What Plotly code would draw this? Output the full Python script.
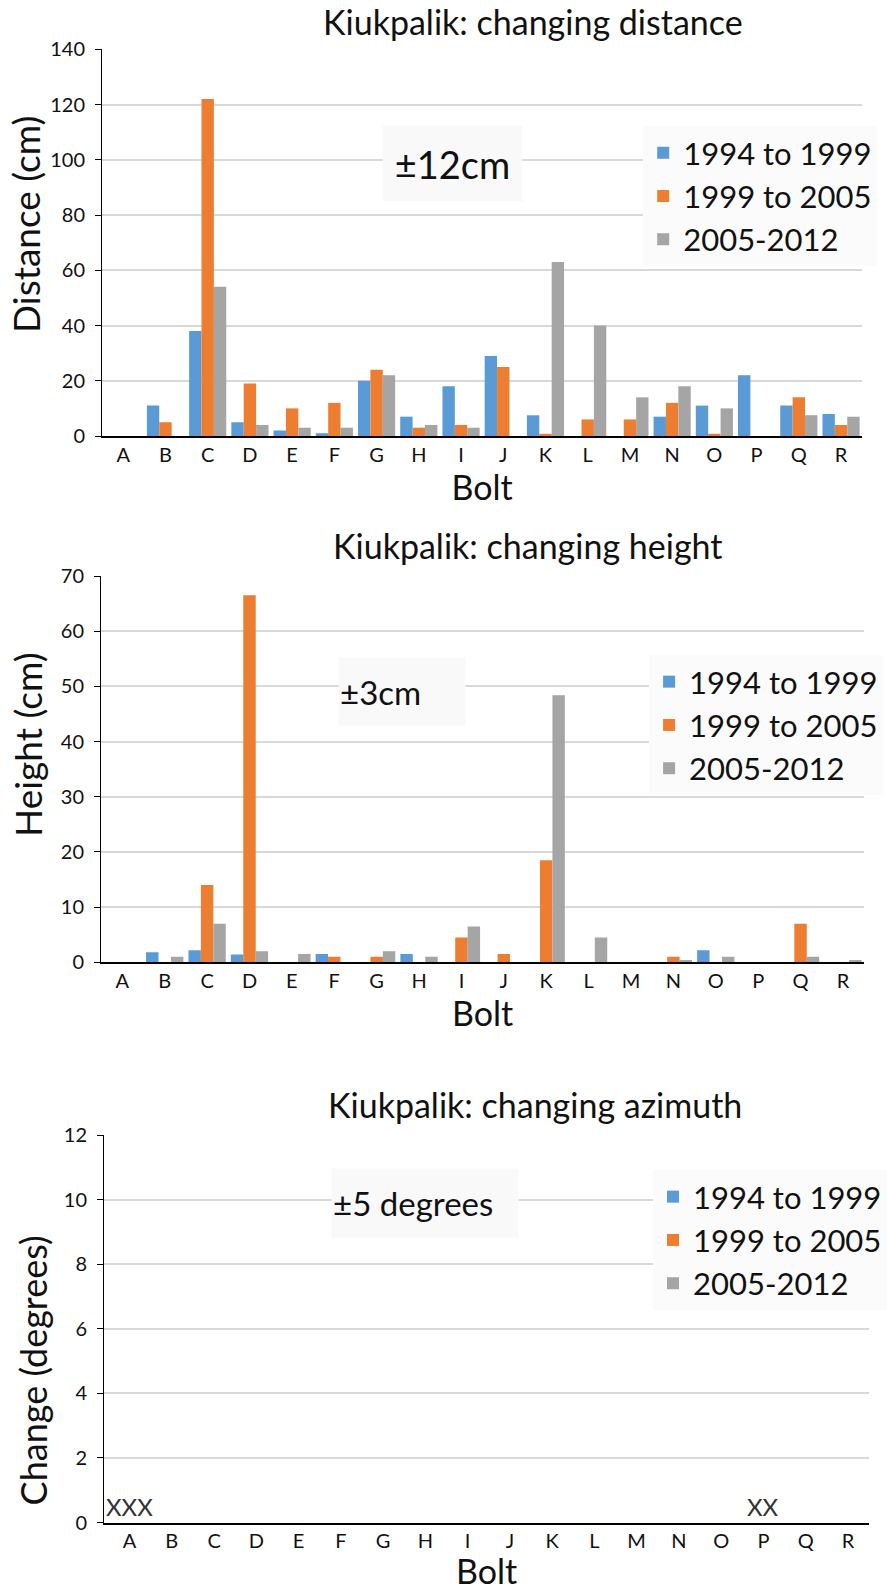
import plotly.graph_objects as go

# ---------------- data ----------------
bolts = ["A", "B", "C", "D", "E", "F", "G", "H", "I", "J", "K", "L", "M", "N", "O", "P", "Q", "R"]
series_names = ["1994 to 1999", "1999 to 2005", "2005-2012"]
series_colors = ["#5B9BD5", "#ED7D31", "#A5A5A5"]

dist_1994_1999 = [0, 11, 38, 5, 2, 1, 20, 7, 18, 29, 7.5, 0, 0, 7, 11, 22, 11, 8]
dist_1999_2005 = [0, 5, 122, 19, 10, 12, 24, 3, 4, 25, 0.8, 6, 6, 12, 0.8, 0, 14, 4]
dist_2005_2012 = [0, 0, 54, 4, 3, 3, 22, 4, 3, 0, 63, 40, 14, 18, 10, 0, 7.5, 7]

height_1994_1999 = [0, 1.8, 2.2, 1.4, 0, 1.5, 0, 1.5, 0, 0, 0, 0, 0, 0, 2.2, 0, 0, 0]
height_1999_2005 = [0, 0, 14, 66.5, 0, 1, 1, 0, 4.5, 1.5, 18.5, 0, 0, 1, 0, 0, 7, 0]
height_2005_2012 = [0, 1, 7, 2, 1.5, 0, 2, 1, 6.5, 0, 48.4, 4.5, 0, 0.4, 1, 0, 1, 0.4]

# azimuth: no measurable change recorded (shown as empty chart)
azim_1994_1999 = [None] * 18
azim_1999_2005 = [None] * 18
azim_2005_2012 = [None] * 18

azim_flags = {"A": "XXX", "P": "XX"}

chart_titles = ["Kiukpalik: changing distance", "Kiukpalik: changing height", "Kiukpalik: changing azimuth"]
y_titles = ["Distance (cm)", "Height (cm)", "Change (degrees)"]
x_title = "Bolt"
tolerances = ["±12cm", "±3cm", "±5 degrees"]

# ---------------- layout geometry ----------------
W, H = 887, 1591
FONT = "Lato"


def xd(l, r):
    return [l / W, r / W]


def yd(top, bottom):
    return [1 - bottom / H, 1 - top / H]


fig = go.Figure()

panels = [
    dict(data=[dist_1994_1999, dist_1999_2005, dist_2005_2012], xa="x", ya="y", leg="legend"),
    dict(data=[height_1994_1999, height_1999_2005, height_2005_2012], xa="x2", ya="y2", leg="legend2"),
    dict(data=[azim_1994_1999, azim_1999_2005, azim_2005_2012], xa="x3", ya="y3", leg="legend3"),
]

for p in panels:
    for name, color, vals in zip(series_names, series_colors, p["data"]):
        fig.add_trace(go.Bar(
            x=bolts, y=vals, name=name, marker=dict(color=color, line=dict(width=0)),
            xaxis=p["xa"], yaxis=p["ya"], legend=p["leg"],
        ))

grid_c = "#D9D9D9"
tickfont = dict(family=FONT, size=20, color="#111")
titlefont = dict(family=FONT, size=34, color="#111")


def xaxis(domain, anchor, lab_off, title_off):
    return dict(domain=domain, anchor=anchor, type="category", categoryorder="array",
                categoryarray=bolts, showline=True, linecolor="#000", linewidth=1.5,
                ticks="", tickfont=tickfont, automargin=False, showgrid=False,
                title=dict(text=x_title, font=titlefont, standoff=title_off),
                ticklabelstandoff=lab_off)


def yaxis(domain, anchor, rng, dtick):
    return dict(domain=domain, anchor=anchor, range=rng, dtick=dtick, tick0=0,
                showline=True, linecolor="#000", linewidth=1.2, ticks="outside",
                ticklen=6, tickcolor="#000", tickfont=tickfont, showgrid=True,
                gridcolor=grid_c, gridwidth=1.5, zeroline=False, automargin=False,
                ticklabelstandoff=6)


fig.update_layout(
    width=W, height=H, margin=dict(l=0, r=0, t=0, b=0),
    paper_bgcolor="white", plot_bgcolor="white",
    font=dict(family=FONT, color="#111"),
    barmode="group", bargap=0.12, bargroupgap=0,
    xaxis=xaxis(xd(104, 878), "y", 0, 6),
    yaxis=yaxis(yd(49.3, 436), "x", [0, 140], 20),
    xaxis2=xaxis(xd(103, 880), "y2", 0, 8),
    yaxis2=yaxis(yd(576, 962.3), "x2", [0, 70], 10),
    xaxis3=xaxis(xd(106, 885), "y3", 0, 14),
    yaxis3=yaxis(yd(1135, 1522.5), "x3", [0, 12], 2),
)

legfont = dict(family=FONT, size=31, color="#111")
leg_common = dict(font=legfont, bgcolor="#FBFBFB", borderwidth=0, xanchor="left",
                  yanchor="top", itemwidth=30, tracegroupgap=0)
fig.update_layout(
    legend=dict(x=655 / W, y=1 - 126 / H, **leg_common),
    legend2=dict(x=661 / W, y=1 - 655 / H, **leg_common),
    legend3=dict(x=665 / W, y=1 - 1170 / H, **leg_common),
)

# chart titles
for text, cx, cy in zip(chart_titles, [543, 538, 545], [22, 545, 1104]):
    fig.add_annotation(text=text, x=cx / W, y=1 - cy / H, xref="paper", yref="paper",
                       xanchor="center", yanchor="middle", showarrow=False,
                       font=dict(family=FONT, size=34, color="#111"))

# y-axis titles (placed where the reference puts them)
for text, cx, cy, fs in zip(y_titles, [26.5, 27.5, 34], [225, 745, 1370], [37, 37, 36]):
    fig.add_annotation(text=text, x=cx / W, y=1 - cy / H, xref="paper", yref="paper",
                       xanchor="center", yanchor="middle", showarrow=False, textangle=-90,
                       font=dict(family=FONT, size=fs, color="#111"))

# tolerance boxes
boxes = [(389, 125, 528, 200), (344, 657, 470, 724), (337, 1168, 523, 1236)]
tol_sizes = [38, 33, 33]
tol_align = ["center", "left", "left"]
for text, (l, t, r, b), fs, al in zip(tolerances, boxes, tol_sizes, tol_align):
    fig.add_annotation(text=text, x=l / W, y=1 - t / H, xref="paper", yref="paper",
                       xanchor="left", yanchor="top", showarrow=False,
                       width=r - l - 2, height=b - t - 2, borderpad=1, align=al,
                       bgcolor="#F9F9F9", font=dict(family=FONT, size=fs, color="#111"))

# missing-data flags on azimuth chart
for bolt, flag in azim_flags.items():
    fig.add_annotation(text=flag, x=bolt, y=0, xref="x3", yref="y3", xanchor="center",
                       yanchor="bottom", showarrow=False,
                       font=dict(family=FONT, size=24, color="#333"))

fig.write_html("out.html")
